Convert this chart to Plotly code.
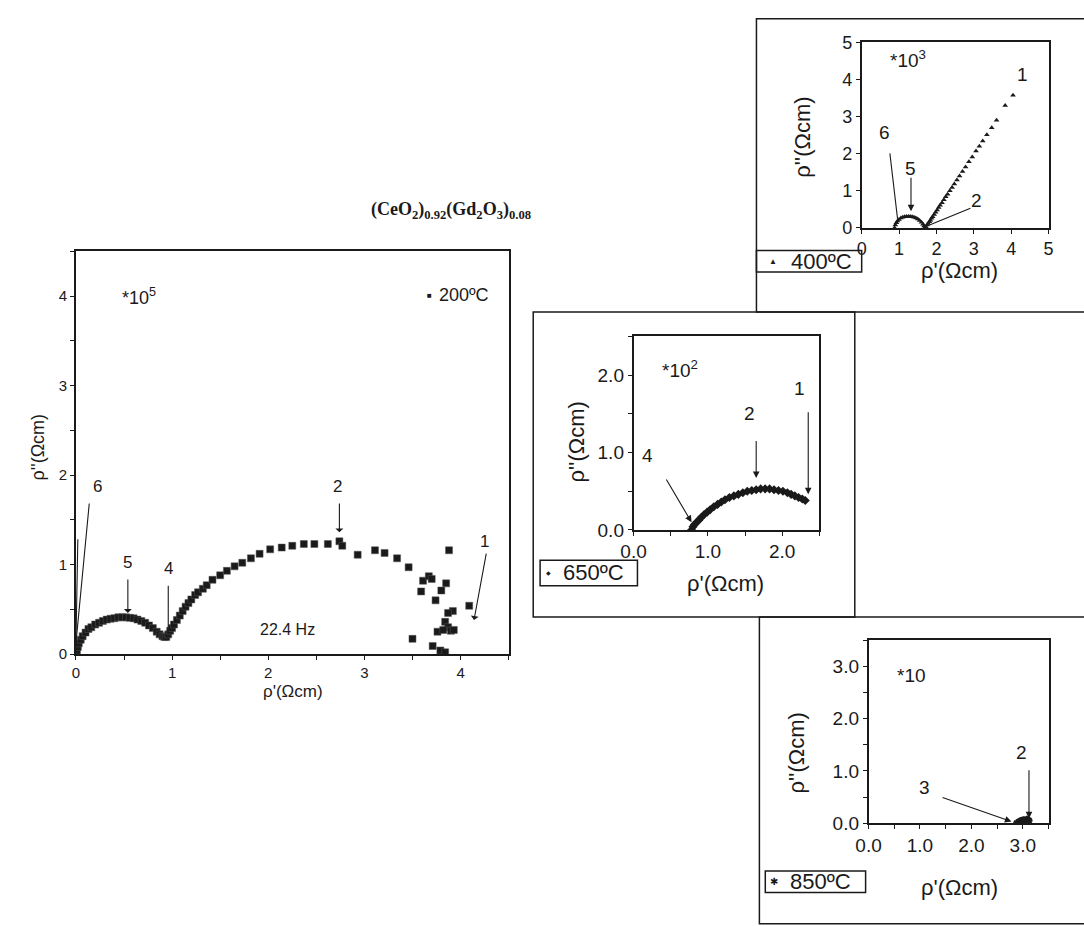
import plotly.graph_objects as go

W, H = 1084, 926

# ---------------- data ----------------
# 200 °C (x10^5)
x200 = [0.00, 0.01, 0.02, 0.03, 0.05, 0.07, 0.10, 0.13, 0.16, 0.20, 0.24, 0.28, 0.32, 0.36,
        0.40, 0.44, 0.48, 0.52, 0.56, 0.60, 0.64, 0.68, 0.72, 0.76, 0.80, 0.84, 0.87, 0.90,
        0.92, 0.94, 0.96, 0.98, 1.00, 1.02, 1.05, 1.08, 1.11, 1.14, 1.17, 1.20, 1.24, 1.27,
        1.32, 1.36, 1.42, 1.50, 1.57, 1.65, 1.73, 1.82, 1.91, 2.02, 2.14, 2.25, 2.37, 2.48,
        2.62, 2.74, 2.77, 2.93, 3.11, 3.21, 3.34, 3.46, 3.59, 3.61, 3.67, 3.70, 3.74, 3.88,
        3.85, 3.80, 3.92, 3.87, 3.84, 3.87, 3.76, 3.82, 3.90, 3.93, 3.50, 3.71, 3.79, 3.84,
        4.09]
y200 = [0.00, 0.04, 0.08, 0.12, 0.16, 0.20, 0.24, 0.28, 0.30, 0.33, 0.35, 0.37, 0.385, 0.395,
        0.40, 0.41, 0.41, 0.41, 0.405, 0.40, 0.385, 0.37, 0.35, 0.32, 0.29, 0.25, 0.22, 0.20,
        0.19, 0.19, 0.22, 0.26, 0.29, 0.33, 0.38, 0.43, 0.48, 0.53, 0.57, 0.61, 0.66, 0.69,
        0.73, 0.77, 0.83, 0.88, 0.93, 0.98, 1.02, 1.07, 1.12, 1.17, 1.19, 1.21, 1.23, 1.23,
        1.23, 1.26, 1.21, 1.11, 1.16, 1.13, 1.07, 0.97, 0.70, 0.82, 0.87, 0.84, 0.60, 1.16,
        0.79, 0.71, 0.48, 0.46, 0.36, 0.30, 0.25, 0.27, 0.26, 0.27, 0.17, 0.09, 0.04, 0.02,
        0.54]

# 400 °C (x10^3)
x400 = [0.88, 0.90, 0.93, 0.96, 1.00, 1.05, 1.10, 1.15, 1.20, 1.25, 1.30, 1.35, 1.40, 1.45,
        1.50, 1.55, 1.60, 1.64, 1.67, 1.69, 1.72, 1.75, 1.78, 1.81, 1.84, 1.87, 1.90, 1.94,
        1.98, 2.02, 2.06, 2.10, 2.15, 2.20, 2.25, 2.30, 2.36, 2.42, 2.48, 2.55, 2.62, 2.70,
        2.78, 2.87, 2.96, 3.06, 3.15, 3.24, 3.35, 3.48, 3.61, 3.84, 4.05]
y400 = [0.00, 0.08, 0.14, 0.19, 0.23, 0.27, 0.29, 0.30, 0.31, 0.31, 0.31, 0.30, 0.29, 0.27,
        0.24, 0.20, 0.15, 0.10, 0.05, 0.01, 0.03, 0.08, 0.12, 0.17, 0.21, 0.26, 0.30, 0.36,
        0.42, 0.48, 0.55, 0.61, 0.68, 0.76, 0.84, 0.91, 1.00, 1.09, 1.18, 1.29, 1.40, 1.52,
        1.64, 1.78, 1.91, 2.07, 2.20, 2.34, 2.51, 2.70, 2.90, 3.30, 3.57]

# 650 °C (x10^2)
x650 = [0.78, 0.80, 0.82, 0.85, 0.88, 0.91, 0.95, 0.99, 1.03, 1.08, 1.13, 1.18, 1.23, 1.29,
        1.35, 1.41, 1.47, 1.53, 1.59, 1.65, 1.71, 1.77, 1.83, 1.89, 1.95, 2.01, 2.07, 2.12,
        2.17, 2.22, 2.27, 2.31]
y650 = [0.00, 0.04, 0.07, 0.10, 0.13, 0.16, 0.20, 0.23, 0.26, 0.30, 0.33, 0.36, 0.39, 0.42,
        0.44, 0.46, 0.48, 0.50, 0.51, 0.52, 0.53, 0.53, 0.53, 0.52, 0.51, 0.50, 0.48, 0.46,
        0.44, 0.42, 0.40, 0.38]

# 850 °C (x10)
x850 = [2.88, 2.92, 2.95, 2.98, 3.00, 3.02, 3.05, 3.08, 3.10, 3.12]
y850 = [0.00, 0.02, 0.04, 0.05, 0.06, 0.06, 0.06, 0.07, 0.06, 0.05]

main_ticks = [0, 0.5, 1, 1.5, 2, 2.5, 3, 3.5, 4, 4.5]
main_labels = ["0", "", "1", "", "2", "", "3", "", "4", ""]
t400 = [0, 1, 2, 3, 4, 5]
t400_labels = ["0", "1", "2", "3", "4", "5"]
t650 = [0, 0.5, 1.0, 1.5, 2.0, 2.5]
t650_labels = ["0.0", "", "1.0", "", "2.0", ""]
t850 = [0, 0.5, 1.0, 1.5, 2.0, 2.5, 3.0, 3.5]
t850_labels = ["0.0", "", "1.0", "", "2.0", "", "3.0", ""]

# ---------------- helpers ----------------
def px(x):
    return x / W

def py(y):
    return 1 - y / H

FONT = "Liberation Sans, Arial, sans-serif"
INK = "#1a1a1a"

fig = go.Figure()
fig.add_trace(go.Scatter(x=x200, y=y200, mode="markers", xaxis="x", yaxis="y",
                         marker=dict(symbol="square", size=7, color=INK,
                                     line=dict(color="#555", width=0.5)), showlegend=False))
fig.add_trace(go.Scatter(x=x400, y=y400, mode="markers", xaxis="x2", yaxis="y2",
                         marker=dict(symbol="triangle-up", size=5, color=INK), showlegend=False))
fig.add_trace(go.Scatter(x=x650, y=y650, mode="markers", xaxis="x3", yaxis="y3",
                         marker=dict(symbol="diamond", size=7, color=INK), showlegend=False))
fig.add_trace(go.Scatter(x=x850, y=y850, mode="markers", xaxis="x4", yaxis="y4",
                         marker=dict(symbol="asterisk-open", size=6, color=INK,
                                     line=dict(width=2, color=INK)), showlegend=False))

def ax(domain, rng, vals, labels, anchor, size):
    return dict(domain=domain, range=rng, tickvals=vals, ticktext=labels, anchor=anchor,
                showline=True, mirror=True, linecolor=INK, linewidth=1.5,
                ticks="outside", ticklen=4, tickcolor=INK, showgrid=False,
                zeroline=False, fixedrange=True,
                tickfont=dict(family=FONT, size=size, color=INK))

fig.update_layout(
    width=W, height=H, margin=dict(l=0, r=0, t=0, b=0, pad=0),
    paper_bgcolor="white", plot_bgcolor="white", showlegend=False,
    xaxis=ax([px(64), px(504)], [0, 4.5], main_ticks, main_labels, "y", 15),
    yaxis=ax([py(659), py(247)], [0, 4.5], main_ticks, main_labels, "x", 15),
    xaxis2=ax([px(863), px(1053)], [0, 5], t400, t400_labels, "y2", 18),
    yaxis2=ax([py(223), py(33)], [0, 5], t400, t400_labels, "x2", 18),
    xaxis3=ax([px(631), px(820)], [0, 2.5], t650, t650_labels, "y3", 19),
    yaxis3=ax([py(532), py(334)], [0, 2.5], t650, t650_labels, "x3", 19),
    xaxis4=ax([px(870), px(1053)], [0, 3.5], t850, t850_labels, "y4", 19),
    yaxis4=ax([py(832), py(645)], [0, 3.5], t850, t850_labels, "x4", 19),
)

# outer boxes and legend boxes
for (x0, y0, x1, y1) in [(756, 9, 1090, 309), (529, 309, 856, 621), (759, 621, 1090, 935),
                         (756, 246, 863, 268), (536, 563, 635, 589), (765, 881, 867, 903)]:
    fig.add_shape(type="rect", xref="paper", yref="paper", x0=px(x0), x1=px(x1),
                  y0=py(y1), y1=py(y0), line=dict(color=INK, width=1.5))

ann = []

def text(x, y, s, xr, yr, size=13, angle=0, family=FONT, xanchor="center"):
    ann.append(dict(x=x, y=y, xref=xr, yref=yr, text=s, showarrow=False, textangle=angle,
                    xanchor=xanchor, yanchor="middle",
                    font=dict(family=family, size=size, color=INK)))

def arrow(xh, yh, xt, yt, xr, yr, head=1):
    ann.append(dict(x=xh, y=yh, ax=xt, ay=yt, xref=xr, yref=yr, axref=xr, ayref=yr,
                    text="", showarrow=True, arrowhead=head, arrowsize=1.2,
                    arrowwidth=1.1, arrowcolor=INK))

# title
text(px(445), py(205),
     "<b>(CeO<sub>2</sub>)<sub>0.92</sub>(Gd<sub>2</sub>O<sub>3</sub>)<sub>0.08</sub></b>",
     "paper", "paper", size=18, family="Liberation Serif, Times New Roman, serif")

# main plot texts
text(0.66, 4.0, "*10<sup>5</sup>", "x", "y", 18)
text(3.68, 4.01, "■", "x", "y", 8)
text(3.76, 4.01, "200ºC", "x", "y", 18, xanchor="left")
text(0.22, 1.87, "6", "x", "y", 17)
text(0.54, 1.02, "5", "x", "y", 17)
text(0.96, 0.96, "4", "x", "y", 17)
text(2.72, 1.87, "2", "x", "y", 17)
text(4.25, 1.26, "1", "x", "y", 17)
text(2.2, 0.27, "22.4 Hz", "x", "y", 16)
text(px(285), py(697), "ρ'(Ωcm)", "paper", "paper", 17)
text(px(25), py(447), "ρ''(Ωcm)", "paper", "paper", 18, angle=-90)
arrow(0.0, 0.12, 0.14, 1.70, "x", "y", head=0)
arrow(0.0, 0.12, 0.02, 1.30, "x", "y", head=0)
arrow(0.54, 0.46, 0.54, 0.85, "x", "y", head=1)
arrow(0.96, 0.23, 0.96, 0.78, "x", "y", head=0)
arrow(2.74, 1.36, 2.74, 1.70, "x", "y", head=1)
arrow(4.14, 0.38, 4.27, 1.14, "x", "y", head=1)

# 400 panel
text(1.25, 4.55, "*10<sup>3</sup>", "x2", "y2", 19)
text(4.31, 4.12, "1", "x2", "y2", 19)
text(0.62, 2.58, "6", "x2", "y2", 19)
text(1.32, 1.61, "5", "x2", "y2", 19)
text(3.08, 0.73, "2", "x2", "y2", 19)
arrow(0.97, 0.16, 0.75, 2.05, "x2", "y2", head=0)
arrow(1.32, 0.45, 1.32, 1.39, "x2", "y2", head=2)
arrow(1.80, 0.07, 2.95, 0.55, "x2", "y2", head=0)
text(px(962), py(267), "ρ'(Ωcm)", "paper", "paper", 22)
text(px(802), py(130), "ρ''(Ωcm)", "paper", "paper", 22, angle=-90)
text(px(773), py(257), "▲", "paper", "paper", 8)
text(px(822), py(257), "400ºC", "paper", "paper", 22)

# 650 panel
text(0.63, 2.08, "*10<sup>2</sup>", "x3", "y3", 19)
text(2.23, 1.83, "1", "x3", "y3", 19)
text(1.56, 1.50, "2", "x3", "y3", 19)
text(0.19, 0.96, "4", "x3", "y3", 19)
arrow(2.35, 0.46, 2.35, 1.54, "x3", "y3", head=2)
arrow(1.65, 0.67, 1.65, 1.17, "x3", "y3", head=2)
arrow(0.78, 0.10, 0.43, 0.67, "x3", "y3", head=2)
text(px(725), py(587), "ρ'(Ωcm)", "paper", "paper", 22)
text(px(574), py(442), "ρ''(Ωcm)", "paper", "paper", 22, angle=-90)
text(px(545), py(576), "◆", "paper", "paper", 6)
text(px(590), py(576), "650ºC", "paper", "paper", 22)

# 850 panel
text(0.84, 2.83, "*10", "x4", "y4", 19)
text(2.97, 1.36, "2", "x4", "y4", 19)
text(1.08, 0.69, "3", "x4", "y4", 19)
arrow(3.12, 0.09, 3.12, 1.04, "x4", "y4", head=2)
arrow(2.78, 0.03, 1.41, 0.50, "x4", "y4", head=2)
text(px(962), py(898), "ρ'(Ωcm)", "paper", "paper", 22)
text(px(797), py(760), "ρ''(Ωcm)", "paper", "paper", 22, angle=-90)
text(px(774), py(892), "✱", "paper", "paper", 10)
text(px(821), py(892), "850ºC", "paper", "paper", 22)

fig.update_layout(annotations=ann)
fig.write_html("out.html", config={"displayModeBar": False},
               post_script="document.body.style.margin='0';document.body.style.overflow='hidden';")
